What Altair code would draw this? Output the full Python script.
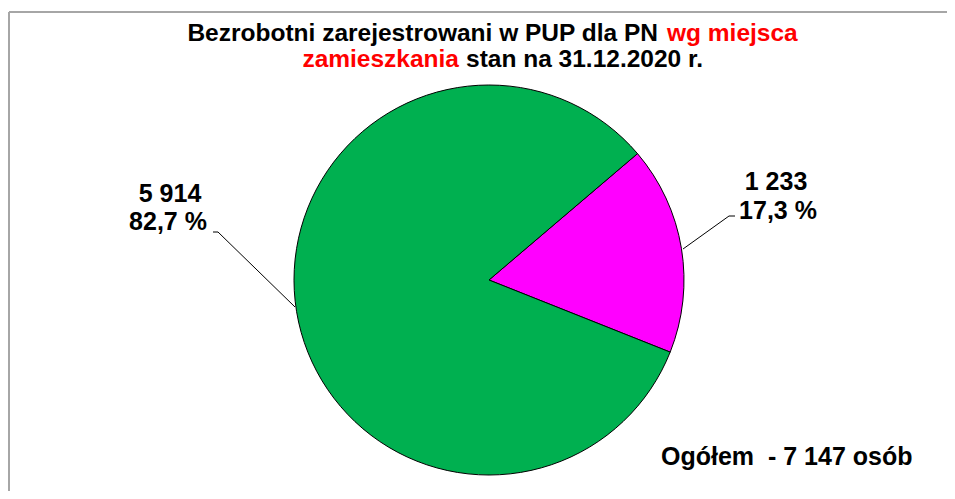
import math
import altair as alt
import pandas as pd

# data
categories = ["poza miastem", "w mieście"]
values = [1233, 5914]
percents = ["17,3 %", "82,7 %"]
colors = ["#FF00FF", "#00B050"]
total_label = "Ogółem\u00a0\u00a0- 7 147 osób"
title_black_1 = "Bezrobotni zarejestrowani w PUP dla PN"
title_red_1 = "wg miejsca"
title_red_2 = "zamieszkania"
title_black_2 = "stan na 31.12.2020 r."

def fmt(v):
    return f"{v:,}".replace(",", "\u00a0")

df = pd.DataFrame({"cat": categories, "value": values, "ord": [0, 1]})

W, H = 939, 483
OFF = 8
cx, cy = 489 - OFF, 280 - OFF
start = math.radians(49.6)
FONT = "Liberation Sans"

pie = alt.Chart(df).mark_arc(radius=195, stroke="black", strokeWidth=1).encode(
    theta=alt.Theta("value:Q", stack=True, scale=alt.Scale(range=[start, start + 2 * math.pi])),
    color=alt.Color("cat:N", scale=alt.Scale(domain=categories, range=colors), legend=None),
    order=alt.Order("ord:Q"),
    x=alt.value(cx),
    y=alt.value(cy),
)

def txt(s, x, y, color="black", align="center", size=24.5):
    return alt.Chart(pd.DataFrame({"t": [s]})).mark_text(
        font=FONT, fontWeight="bold", fontSize=size, color=color, align=align, baseline="middle"
    ).encode(text="t:N", x=alt.value(x - OFF), y=alt.value(y - OFF))

def rule(x1, y1, x2, y2, color="black", w=1):
    return alt.Chart(pd.DataFrame({"a": [0]})).mark_rule(color=color, strokeWidth=w).encode(
        x=alt.value(x1 - OFF), y=alt.value(y1 - OFF), x2=alt.value(x2 - OFF), y2=alt.value(y2 - OFF)
    )

LS = 25
layers = [
    rule(9, 12, 955, 12, color="#A6A6A6", w=2),
    rule(9, 12, 9, 499, color="#A6A6A6", w=2),
    pie,
    txt(title_black_1, 658, 34, align="right"),
    txt(title_red_1, 667, 34, color="#FF0000", align="left"),
    txt(title_red_2, 459, 60, color="#FF0000", align="right"),
    txt(title_black_2, 466, 60, align="left"),
    txt(fmt(values[1]), 170, 194, size=LS),
    txt(percents[1], 168, 222, size=LS),
    txt(fmt(values[0]), 776, 182, size=LS),
    txt(percents[0], 778, 211, size=LS),
    rule(213, 232, 218, 232),
    rule(218, 232, 295, 307),
    rule(735, 216, 729, 216),
    rule(729, 216, 683, 249),
    txt(total_label, 661, 457, align="left", size=LS),
]

chart = alt.layer(*layers).properties(
    width=W, height=H, autosize=alt.AutoSizeParams(type="none"), padding=0
).configure_view(stroke=None)

chart.save("out.html", embed_options={"renderer": "svg", "actions": False})
